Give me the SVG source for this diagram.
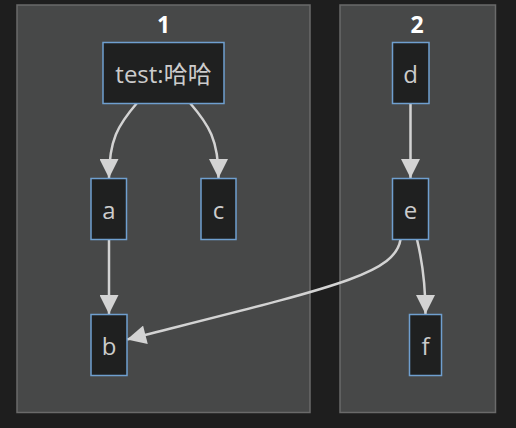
<svg xmlns="http://www.w3.org/2000/svg" width="516" height="428" viewBox="0 0 516 428">
<defs>
<style>
.cluster{fill:#474848;stroke:#6a6a6a;stroke-width:1.5}
.ctitle{fill:#ffffff;font-family:"Open Sans","Noto Sans CJK SC",sans-serif;font-size:23px;font-weight:bold;text-anchor:middle}
.node rect{fill:#1f2020;stroke:#6f9fcf;stroke-width:1.5}
.node text{fill:#cccccc;font-family:"Open Sans","Noto Sans CJK SC",sans-serif;font-size:24px;text-anchor:middle;dominant-baseline:central}
.edge{fill:none;stroke:#d3d3d3;stroke-width:2.5;marker-end:url(#arrow)}
</style>
<marker id="arrow" viewBox="0 0 10 10" refX="10" refY="5" markerUnits="userSpaceOnUse" markerWidth="20" markerHeight="19" orient="auto">
<path d="M0,0 L10,5 L0,10 z" fill="#d3d3d3"/>
</marker>
</defs>
<rect x="0" y="0" width="516" height="428" fill="#1e1e1e"/>
<g id="cluster1">
<rect class="cluster" x="17" y="5" width="293" height="407.5"/>
<text class="ctitle" x="163.5" y="32.5">1</text>
</g>
<g id="cluster2">
<rect class="cluster" x="340" y="5" width="155.5" height="407.5"/>
<text class="ctitle" x="417" y="32.5">2</text>
</g>
<g id="connectors">
<path class="edge" d="M137,103 C118,125 109,140 109,178"/>
<path class="edge" d="M190,103 C209,125 218.5,140 218.5,178"/>
<path class="edge" d="M109,239.5 L109,314"/>
<path class="edge" d="M410.5,103.5 L410.5,178"/>
<path class="edge" d="M417,239.5 C422,260 425.5,280 425.5,314"/>
<path class="edge" d="M400.5,239.5 C395,275 330,288 127,339.5"/>
</g>
<g id="test" class="node">
<rect x="103" y="42.5" width="121" height="61"/>
<text x="163.5" y="73">test:哈哈</text>
</g>
<g id="a" class="node">
<rect x="91" y="178.5" width="35.5" height="61"/>
<text x="109" y="209">a</text>
</g>
<g id="c" class="node">
<rect x="201" y="178.5" width="35" height="61"/>
<text x="218.5" y="209">c</text>
</g>
<g id="b" class="node">
<rect x="91" y="314.5" width="36" height="61"/>
<text x="109" y="345">b</text>
</g>
<g id="d" class="node">
<rect x="392.5" y="42.5" width="36.5" height="61"/>
<text x="410.5" y="73">d</text>
</g>
<g id="e" class="node">
<rect x="392.5" y="178.5" width="36" height="61"/>
<text x="410.5" y="209">e</text>
</g>
<g id="f" class="node">
<rect x="409.5" y="314.5" width="32" height="61"/>
<text x="425.5" y="345">f</text>
</g>
</svg>
